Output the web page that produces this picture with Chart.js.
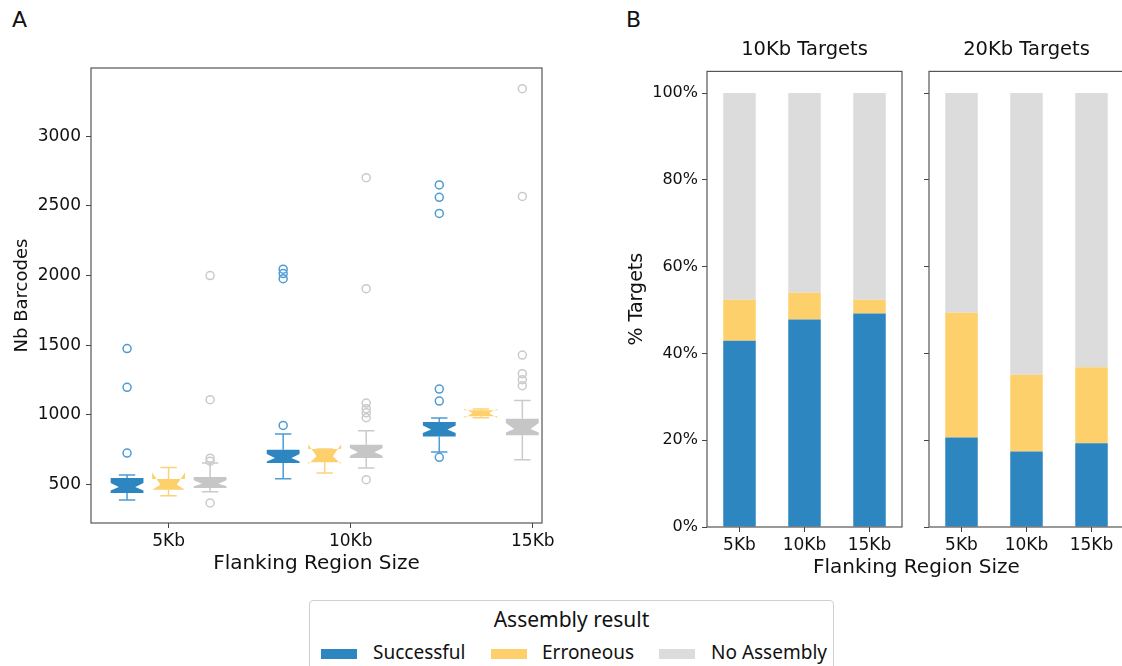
<!DOCTYPE html>
<html>
<head>
<meta charset="utf-8">
<script src="https://cdn.jsdelivr.net/npm/chart.js@4.4.1/dist/chart.umd.min.js"></script>
<style>
  body { margin: 0; width: 1122px; height: 666px; overflow: hidden; background: #fff; position: relative; font-family: 'DejaVu Sans', sans-serif; color: #111; }
  canvas { position: absolute; top: 0; }
  .txt { position: absolute; white-space: nowrap; line-height: 1; }
  #legend { position: absolute; left: 309px; top: 600px; width: 523px; height: 80px; border: 1px solid #cfcfcf; border-radius: 4px; font-family: 'Noto Sans', sans-serif; }
  .sw { position: absolute; width: 36px; height: 10px; top: 48px; }
  .lt { position: absolute; top: 42px; font-size: 19px; line-height: 1; white-space: nowrap; }
</style>
</head>
<body>
<div class="txt" style="left:12px;top:9px;font-size:22px;">A</div>
<div class="txt" style="left:626px;top:9px;font-size:22px;">B</div>

<canvas id="boxChart" width="560" height="590" style="left:0px"></canvas>
<canvas id="barLeft" width="304" height="590" style="left:600px"></canvas>
<canvas id="barRight" width="230" height="590" style="left:900px"></canvas>

<div class="txt" style="left:813px;top:556px;width:200px;text-align:center;font-size:20px;">Flanking Region Size</div>

<div id="legend">
  <div class="txt" style="left:0;width:523px;top:8px;text-align:center;font-size:21px;">Assembly result</div>
  <div class="sw" style="left:11px;background:#2e86c1"></div>
  <div class="lt" style="left:63px">Successful</div>
  <div class="sw" style="left:181px;background:#fdd06b"></div>
  <div class="lt" style="left:232px">Erroneous</div>
  <div class="sw" style="left:349px;background:#dcdcdc"></div>
  <div class="lt" style="left:401px">No Assembly</div>
</div>

<script>
// categories
const flankLabels = ['5Kb', '10Kb', '15Kb'];
const seriesNames = ['Successful', 'Erroneous', 'No Assembly'];

// panel A: box stats per flank size -> [whislo, q1, cilo, median, cihi, q3, whishi]
const successStats = [
  [390, 440, 459, 483, 512, 548, 570],
  [543, 656, 667, 692, 720, 751, 864],
  [735, 846, 871, 895, 925, 950, 978]
];
const erroneousStats = [
  [421, 464, 464, 500, 588, 541, 624],
  [584, 660, 648, 703, 790, 755, 755],
  [980, 990, 978, 1014, 1045, 1033, 1043]
];
const noAssemblyStats = [
  [450, 476, 488, 507, 531, 555, 656],
  [620, 692, 708, 732, 763, 787, 887],
  [679, 854, 875, 900, 943, 973, 1103]
];

// panel A: outliers
const successOutliers = [
  [727, 1198, 1476],
  [925, 1978, 2014, 2046],
  [696, 1100, 1186, 2446, 2561, 2650]
];
const erroneousOutliers = [[], [], []];
const noAssemblyOutliers = [
  [369, 668, 690, 1110, 2000],
  [536, 980, 1015, 1045, 1085, 1906, 2702],
  [1210, 1253, 1296, 1430, 2568, 3341]
];

// panel A axis ticks
const barcodeTicks = [500, 1000, 1500, 2000, 2500, 3000];
const flankTickPos = [0, 7 / 6, 7 / 3];

// panel B: % of targets (10Kb targets / 20Kb targets)
const success10 = [42.9, 47.8, 49.2];
const erroneous10 = [9.5, 6.2, 3.2];
const noAssembly10 = [47.6, 46.0, 47.6];
const success20 = [20.6, 17.4, 19.3];
const erroneous20 = [28.8, 17.7, 17.5];
const noAssembly20 = [50.6, 64.9, 63.2];
const pctTicks = [0, 20, 40, 60, 80, 100];

const fillColors = ['#2e86c1', '#fdd06b', '#c6c6c6'];
const lineColors = ['#4f9bd4', '#fbd27c', '#cacaca'];
const barColors = ['#2e86c1', '#fdd06b', '#dcdcdc'];
const seriesOffsets = [-0.266, 0, 0.266];
const boxWidth = 0.21;

const allStats = [successStats, erroneousStats, noAssemblyStats];
const allOutliers = [successOutliers, erroneousOutliers, noAssemblyOutliers];

const tickFont = { family: 'DejaVu Sans', size: 17 };
const textColor = '#111';

// full frame like matplotlib spines
const framePlugin = {
  id: 'frame',
  afterDraw(chart) {
    const { ctx, chartArea: a } = chart;
    ctx.save();
    ctx.strokeStyle = '#555';
    ctx.lineWidth = 1.2;
    ctx.strokeRect(a.left, a.top, a.right - a.left, a.bottom - a.top);
    ctx.restore();
  }
};

// notched boxes, drawn with the chart's scales
const boxPlugin = {
  id: 'notchedBoxes',
  beforeDatasetsDraw(chart) {
    const { ctx, chartArea: a, scales: { x, y } } = chart;
    const py = v => y.getPixelForValue(v);
    ctx.save();
    ctx.beginPath();
    ctx.rect(a.left, a.top, a.right - a.left, a.bottom - a.top);
    ctx.clip();
    allStats.forEach((statsList, si) => {
      statsList.forEach((st, gi) => {
        const [whislo, q1, cilo, med, cihi, q3, whishi] = st;
        const pos = gi + seriesOffsets[si];
        const cx = x.getPixelForValue(pos);
        const half = x.getPixelForValue(pos + boxWidth / 2) - cx;
        const L = cx - half, R = cx + half, cL = cx - half / 2, cR = cx + half / 2;
        ctx.fillStyle = fillColors[si];
        ctx.beginPath();
        ctx.moveTo(L, py(q1));
        ctx.lineTo(R, py(q1));
        ctx.lineTo(R, py(cilo));
        ctx.lineTo(cR, py(med));
        ctx.lineTo(R, py(cihi));
        ctx.lineTo(R, py(q3));
        ctx.lineTo(L, py(q3));
        ctx.lineTo(L, py(cihi));
        ctx.lineTo(cL, py(med));
        ctx.lineTo(L, py(cilo));
        ctx.closePath();
        ctx.fill();

        ctx.strokeStyle = lineColors[si];
        ctx.lineWidth = 1.5;
        ctx.beginPath();
        ctx.moveTo(cx, py(q1)); ctx.lineTo(cx, py(whislo));
        ctx.moveTo(cx, py(q3)); ctx.lineTo(cx, py(whishi));
        ctx.moveTo(cL, py(whislo)); ctx.lineTo(cR, py(whislo));
        ctx.moveTo(cL, py(whishi)); ctx.lineTo(cR, py(whishi));
        ctx.stroke();
      });
    });
    ctx.restore();
  }
};

const outlierSets = allOutliers.map((groups, si) => ({
  label: seriesNames[si],
  data: groups.flatMap((vals, gi) => vals.map(v => ({ x: gi + seriesOffsets[si], y: v }))),
  pointStyle: 'circle',
  pointRadius: 4,
  borderWidth: 1.5,
  borderColor: lineColors[si],
  backgroundColor: 'rgba(0,0,0,0)'
}));

new Chart(document.getElementById('boxChart'), {
  type: 'scatter',
  data: { datasets: outlierSets },
  options: {
    responsive: false,
    animation: false,
    layout: { padding: { top: 68, right: 18, left: 0, bottom: 0 } },
    plugins: { legend: { display: false }, tooltip: { enabled: false } },
    scales: {
      x: {
        type: 'linear', min: -0.497, max: 2.392,
        afterBuildTicks: s => { s.ticks = flankTickPos.map(v => ({ value: v })); },
        afterFit: s => { s.height = 67; },
        ticks: { callback: (v, i) => flankLabels[i], font: tickFont, color: textColor, padding: 3, maxRotation: 0 },
        grid: { drawOnChartArea: false, tickLength: 5, color: '#444' },
        border: { display: false },
        title: { display: true, text: 'Flanking Region Size', font: { family: 'DejaVu Sans', size: 20 }, color: textColor, padding: { top: 0, bottom: 14 } }
      },
      y: {
        min: 225, max: 3489,
        afterBuildTicks: s => { s.ticks = barcodeTicks.map(v => ({ value: v })); },
        afterFit: s => { s.width = 91; },
        ticks: { font: tickFont, color: textColor, padding: 5, callback: v => String(v) },
        grid: { drawOnChartArea: false, tickLength: 5, color: '#444' },
        border: { display: false },
        title: { display: true, text: 'Nb Barcodes', font: { family: 'DejaVu Sans', size: 18 }, color: textColor, padding: { top: 12, bottom: 0 } }
      }
    }
  },
  plugins: [boxPlugin, framePlugin]
});

function barChart(canvasId, title, values, showYLabels, yAxisWidth, padRight) {
  return new Chart(document.getElementById(canvasId), {
    type: 'bar',
    data: {
      labels: flankLabels,
      datasets: values.map((vals, si) => ({
        label: seriesNames[si],
        data: vals,
        backgroundColor: barColors[si],
        borderWidth: 0,
        barPercentage: 0.5,
        categoryPercentage: 1.0
      }))
    },
    options: {
      responsive: false,
      animation: false,
      layout: { padding: { top: 0, right: padRight, left: 0, bottom: 0 } },
      plugins: {
        legend: { display: false },
        tooltip: { enabled: false },
        title: { display: true, fullSize: false, text: title, color: textColor, font: { family: 'DejaVu Sans', size: 19.5, weight: 'normal' }, padding: { top: 38, bottom: 10 } }
      },
      scales: {
        x: {
          stacked: true,
          afterFit: s => { s.height = 63; },
          ticks: { font: tickFont, color: textColor, padding: 3, maxRotation: 0 },
          grid: { drawOnChartArea: false, tickLength: 5, color: '#444', offset: false },
          border: { display: false }
        },
        y: {
          stacked: true, min: 0, max: 105,
          afterBuildTicks: s => { s.ticks = pctTicks.map(v => ({ value: v })); },
          afterFit: s => { s.width = yAxisWidth; },
          ticks: { font: { family: 'DejaVu Sans', size: 16 }, color: textColor, padding: 4, callback: v => showYLabels ? v + '%' : '' },
          grid: { drawOnChartArea: false, tickLength: 5, color: '#444' },
          border: { display: false },
          title: { display: showYLabels, text: '% Targets', font: { family: 'DejaVu Sans', size: 19 }, color: textColor, padding: { top: 26, bottom: 0 } }
        }
      }
    },
    plugins: [framePlugin]
  });
}

barChart('barLeft', '10Kb Targets', [success10, erroneous10, noAssembly10], true, 107, 2);
barChart('barRight', '20Kb Targets', [success20, erroneous20, noAssembly20], false, 29, 6);
</script>
</body>
</html>
